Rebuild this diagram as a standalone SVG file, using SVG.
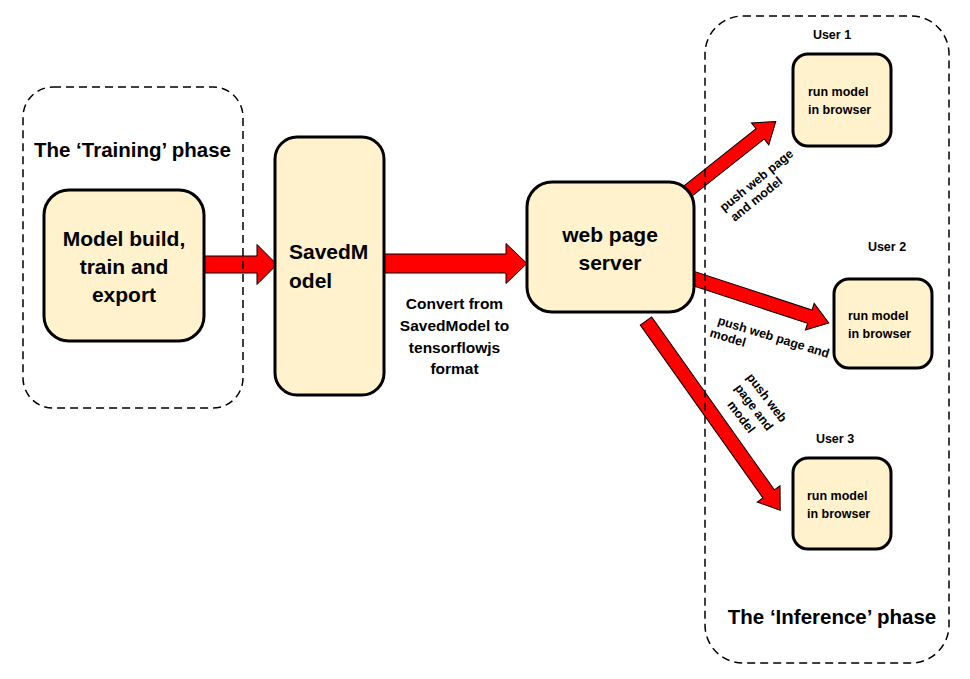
<svg xmlns="http://www.w3.org/2000/svg" width="970" height="679" viewBox="0 0 970 679">
<style>
text{font-family:"Liberation Sans",Arial,sans-serif;font-weight:bold;fill:#000}
.box{fill:#fff2cc;stroke:#000;stroke-width:3}
.cont{fill:none;stroke:#000;stroke-width:1.5;stroke-dasharray:8 5}
.arr{fill:#ff0000;stroke:#000;stroke-width:1}
.big{font-size:21px}
.ph{font-size:20.5px}
.sm{font-size:12.5px}
.mid{font-size:15.5px}
</style>
<rect width="970" height="679" fill="#fff"/>
<g id="connectors">
<polygon class="arr" points="200,256 257,256 257,244.5 277,264.5 257,284.5 257,273 200,273"/>
<polygon class="arr" points="384,254 506,254 506,243.5 527,263.5 506,283.5 506,273 384,273"/>
<polygon class="arr" transform="translate(688,191) rotate(-38.4)" points="0,-6.5 92,-6.5 92,-14 112,0 92,14 92,6.5 0,6.5"/>
<polygon class="arr" transform="translate(692,278) rotate(18.2)" points="0,-7 124,-7 124,-14 144,0 124,14 124,7 0,7"/>
<polygon class="arr" transform="translate(646,321) rotate(54.66)" points="0,-7 212,-7 212,-14 232,0 212,14 212,7 0,7"/>
<text class="mid" text-anchor="middle"><tspan x="454.5" y="309">Convert from</tspan><tspan x="454.5" y="331">SavedModel to</tspan><tspan x="454.5" y="353">tensorflowjs</tspan><tspan x="454.5" y="374">format</tspan></text>
<text class="sm" transform="translate(724,212) rotate(-39)"><tspan x="0" y="0">push web page</tspan><tspan x="2" y="14.5">and model</tspan></text>
<text class="sm" transform="translate(717,324) rotate(17)"><tspan x="0" y="0">push web page and</tspan><tspan x="-4" y="14">model</tspan></text>
<text class="sm" transform="translate(746,377) rotate(53)" text-anchor="middle"><tspan x="29" y="0">push web</tspan><tspan x="29" y="16">page and</tspan><tspan x="29" y="32">model</tspan></text>
</g>
<g id="training-phase">
<rect class="cont" x="23" y="87" width="220" height="321" rx="30"/>
<text class="ph" x="132.5" y="157" text-anchor="middle">The ‘Training’ phase</text>
</g>
<g id="inference-phase">
<rect class="cont" x="705" y="16" width="244" height="647" rx="38"/>
<text class="ph" x="832" y="624" text-anchor="middle">The ‘Inference’ phase</text>
</g>
<g id="model-build">
<rect class="box" x="44" y="190" width="160" height="151" rx="25"/>
<text class="big" text-anchor="middle"><tspan x="124" y="246">Model build,</tspan><tspan x="124" y="274">train and</tspan><tspan x="124" y="302">export</tspan></text>
</g>
<g id="savedmodel">
<rect class="box" x="275" y="137" width="109" height="258" rx="22"/>
<text class="big"><tspan x="289" y="259">SavedM</tspan><tspan x="289" y="288">odel</tspan></text>
</g>
<g id="web-page-server">
<rect class="box" x="527" y="182" width="167" height="130" rx="25"/>
<text class="big" text-anchor="middle"><tspan x="610" y="242">web page</tspan><tspan x="610" y="270">server</tspan></text>
</g>
<g id="user1">
<text class="sm" x="832" y="39" text-anchor="middle">User 1</text>
<rect class="box" x="793" y="54" width="98" height="92" rx="15"/>
<text class="sm"><tspan x="808" y="96">run model</tspan><tspan x="808" y="113.5">in browser</tspan></text>
</g>
<g id="user2">
<text class="sm" x="887" y="251" text-anchor="middle">User 2</text>
<rect class="box" x="834" y="279" width="98" height="89" rx="15"/>
<text class="sm"><tspan x="848" y="320">run model</tspan><tspan x="848" y="337.5">in browser</tspan></text>
</g>
<g id="user3">
<text class="sm" x="835" y="443" text-anchor="middle">User 3</text>
<rect class="box" x="793" y="458" width="98" height="91" rx="15"/>
<text class="sm"><tspan x="807" y="499.5">run model</tspan><tspan x="807" y="517.5">in browser</tspan></text>
</g>
</svg>
